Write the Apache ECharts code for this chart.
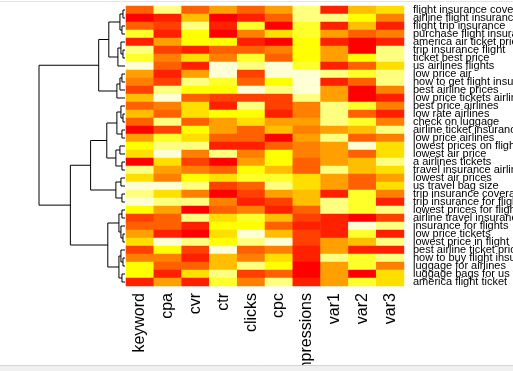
<!DOCTYPE html>
<html>
<head>
<meta charset="utf-8">
<script src="https://cdn.jsdelivr.net/npm/echarts@6/dist/echarts.min.js"></script>
<style>html,body{margin:0;padding:0;background:#fff;}#c{width:513px;height:371px;}</style>
</head>
<body>
<div id="c"></div>
<script>
// Column (variable) labels
const colLabels = ["keyword","cpa","cvr","ctr","clicks","cpc","impressions","var1","var2","var3"];
// Row labels (top to bottom)
const rowLabels = ["flight insurance coverage","airline flight insurance","flight trip insurance","purchase flight insurance","america air ticket prices","trip insurance flight","ticket best price","us airlines flights","low price air","how to get flight insurance","best airline prices","low price tickets airlines","best price airlines","low rate airlines","check on luggage","airline ticket insurance","low price airlines","lowest prices on flights","lowest air price","a airlines tickets","travel insurance airline","lowest air prices","us travel bag size","trip insurance coverage","trip insurance for flights","lowest prices for flights","airline travel insurance","insurance for flights","low price tickets","lowest price in flight","best airline ticket prices","how to buy flight insurance","luggage for airlines","luggage bags for us travel","america flight ticket"];
// Colour-level values per column (0 = red ... 11 = pale yellow), top row first
const keyword     = [3,0,3,9,1,10,9,11,5,4,2,6,3,6,3,0,5,8,7,0,10,7,11,10,11,8,2,3,5,7,2,4,8,8,1];
const cpa         = [10,1,2,1,5,2,4,3,1,2,10,11,4,3,10,2,9,10,11,7,5,4,11,7,10,5,3,3,1,11,8,4,3,1,5];
const cvr         = [3,6,10,8,8,1,7,1,5,10,8,3,7,7,3,8,7,10,4,2,4,8,10,4,10,0,10,1,0,10,2,1,3,7,1];
const ctr         = [5,0,1,0,8,3,4,11,11,9,8,2,1,8,5,5,3,1,10,0,3,7,2,0,4,3,7,8,7,8,11,6,6,10,9];
const clicks      = [3,1,9,4,1,3,9,10,2,3,11,2,10,8,7,3,3,1,4,5,8,9,3,2,1,4,9,8,11,10,3,4,10,2,4];
const cpc         = [5,3,0,7,0,4,3,11,11,8,10,2,2,1,5,6,0,3,8,8,6,9,10,5,2,1,6,3,6,11,4,7,8,3,10];
const impressions = [10,10,9,9,8,8,8,9,11,11,11,10,4,4,5,4,5,4,4,3,3,7,7,6,6,3,2,1,2,2,1,1,0,0,1];
const var1        = [1,10,1,5,1,5,5,1,10,1,5,5,10,10,10,5,10,5,5,5,10,5,5,1,10,10,1,1,1,5,5,10,5,5,5];
const var2        = [6,8,6,3,0,0,8,3,9,3,0,0,9,3,9,6,3,11,3,6,6,3,3,9,9,9,0,11,9,6,1,9,9,0,9];
const var3        = [7,4,1,4,1,10,10,7,10,10,4,1,4,1,4,10,4,7,7,10,7,5,7,4,1,10,2,10,1,10,1,10,4,7,7];
// Row dendrogram: [merge height, left, right]; leaves are row indices
const rowTree = [85,
  [26,
    [16, [5,[2,0,1],[3,2,3]], [7,[4,4,[2,5,6]],7]],
    [8,[5,[3,8,9],10],11]],
  [54,
    [34,
      [18, [8,[4,12,[2,13,14]],[3,15,16]], [9,[5,17,18],[3,19,20]]],
      [9,[4,21,22],[3,23,24]]],
    [17,
      [6,[3,25,26],[4,27,[2,28,29]]],
      [6,[4,30,[2,31,32]],[3,33,34]]]]];

const heatColors = ["#FF0000","#FF2000","#FF4000","#FF6000","#FF8000","#FF9F00","#FFBF00","#FFDF00","#FFFF00","#FFFF2A","#FFFF80","#FFFFD5"];

const columns = [keyword,cpa,cvr,ctr,clicks,cpc,impressions,var1,var2,var3];
const cells = [];
columns.forEach((col, ci) => col.forEach((v, ri) => cells.push([ci, ri, v])));

const segs = [];
function walk(node) {
  if (typeof node === 'number') return {y: node, h: 0};
  const a = walk(node[1]), b = walk(node[2]), h = node[0];
  segs.push({coords: [[a.h, a.y], [h, a.y], [h, b.y], [b.h, b.y]]});
  return {y: (a.y + b.y) / 2, h: h};
}
walk(rowTree);

const chart = echarts.init(document.getElementById('c'));
chart.setOption({
  animation: false,
  backgroundColor: '#ffffff',
  textStyle: {fontFamily: 'Liberation Sans, Arial, sans-serif'},
  grid: [
    {left: 126, top: 6, width: 278, height: 280, containLabel: false, outerBoundsMode: 'none'},
    {left: 39, top: 6, width: 86, height: 280, containLabel: false, outerBoundsMode: 'none'}
  ],
  xAxis: [
    {type: 'category', gridIndex: 0, data: colLabels, position: 'bottom',
     axisLine: {show: false}, axisTick: {show: false}, splitLine: {show: false},
     axisLabel: {rotate: 90, fontSize: 16, color: '#000', margin: 7, interval: 0,
                 hideOverlap: false, padding: [5, 0, 0, 0],
                 fontFamily: 'Liberation Sans, Arial, sans-serif'}},
    {type: 'value', gridIndex: 1, min: 0, max: 85, inverse: true, show: false}
  ],
  yAxis: [
    {type: 'category', gridIndex: 0, data: rowLabels, inverse: true, position: 'right',
     axisLine: {show: false}, axisTick: {show: false}, splitLine: {show: false},
     axisLabel: {fontSize: 11, color: '#000', margin: 9, interval: 0, hideOverlap: false,
                 fontFamily: 'Liberation Sans, Arial, sans-serif'}},
    {type: 'value', gridIndex: 1, min: -0.5, max: 34.5, inverse: true, show: false}
  ],
  visualMap: {show: false, type: 'continuous', min: 0, max: 11, dimension: 2,
              seriesIndex: 0, inRange: {color: heatColors}},
  series: [
    {type: 'heatmap', xAxisIndex: 0, yAxisIndex: 0, data: cells,
     itemStyle: {borderWidth: 0}, emphasis: {disabled: true}},
    {type: 'lines', coordinateSystem: 'cartesian2d', xAxisIndex: 1, yAxisIndex: 1,
     polyline: true, data: segs, silent: true,
     lineStyle: {color: '#000', width: 1, opacity: 1}}
  ],
  graphic: [
    {type: 'rect', z: 100, shape: {x: 0, y: 365, width: 513, height: 6},
     style: {fill: '#f0f0f0'}},
    {type: 'line', z: 101, shape: {x1: 0, y1: 365.5, x2: 513, y2: 365.5},
     style: {stroke: '#d4d4d4', lineWidth: 1}},
    {type: 'line', z: 101, shape: {x1: 0, y1: 1.5, x2: 513, y2: 1.5},
     style: {stroke: '#e4e4e4', lineWidth: 1}}
  ]
});
</script>
</body>
</html>
